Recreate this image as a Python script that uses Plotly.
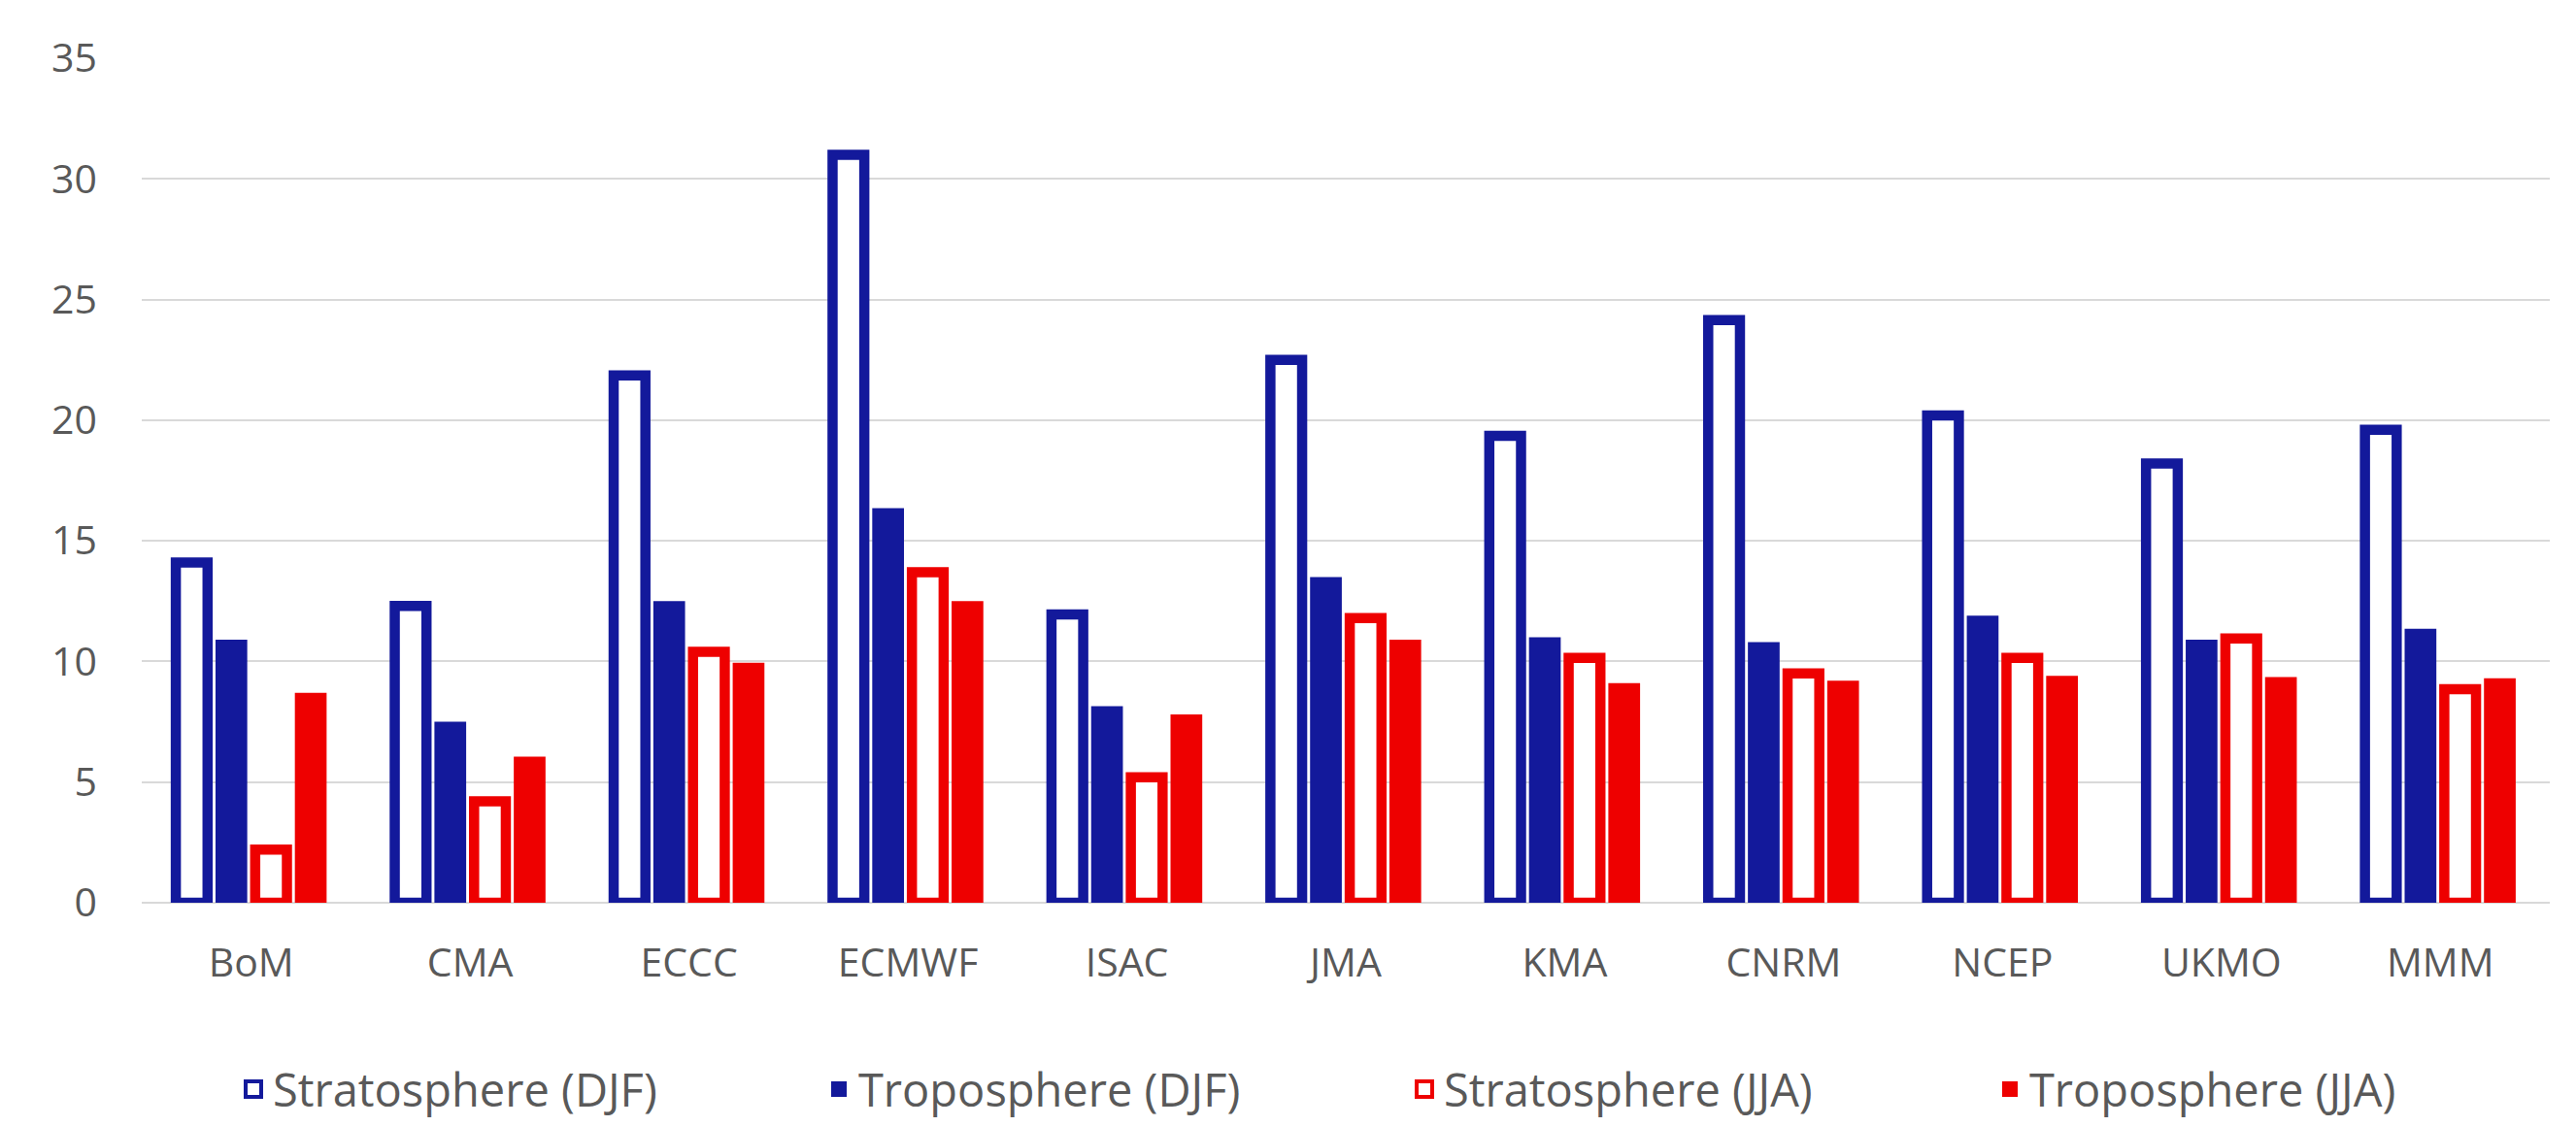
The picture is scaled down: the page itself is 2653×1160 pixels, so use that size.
import plotly.graph_objects as go

categories = ["BoM", "CMA", "ECCC", "ECMWF", "ISAC", "JMA", "KMA", "CNRM", "NCEP", "UKMO", "MMM"]
strat_djf = [14.1, 12.3, 21.85, 31.0, 11.95, 22.5, 19.35, 24.15, 20.2, 18.2, 19.6]
trop_djf = [10.9, 7.5, 12.5, 16.35, 8.15, 13.5, 11.0, 10.8, 11.9, 10.9, 11.35]
strat_jja = [2.2, 4.2, 10.4, 13.7, 5.2, 11.8, 10.15, 9.5, 10.15, 10.95, 8.85]
trop_jja = [8.7, 6.05, 9.95, 12.5, 7.8, 10.9, 9.1, 9.2, 9.4, 9.35, 9.3]
y_ticks = [0, 5, 10, 15, 20, 25, 30, 35]
series_names = ["Stratosphere (DJF)", "Troposphere (DJF)", "Stratosphere (JJA)", "Troposphere (JJA)"]

BLUE = "#13199B"
RED = "#EE0000"
FONT = "Open Sans"
GREY = "#595959"

series = [strat_djf, trop_djf, strat_jja, trop_jja]
fills = ["white", BLUE, "white", RED]
lines = [BLUE, BLUE, RED, RED]
lws = [10.5, 0, 10.5, 0]

fig = go.Figure()
for name, vals, fc, lc, lw in zip(series_names, series, fills, lines, lws):
    fig.add_trace(go.Bar(x=categories, y=vals, name=name, showlegend=False,
                         legendgroup=name,
                         marker=dict(color=fc, line=dict(color=lc, width=lw))))
# legend entries (larger square symbols)
for name, fc, lc, lw in zip(series_names, fills, lines, lws):
    fig.add_trace(go.Scatter(x=[None], y=[None], mode="markers", name=name, legendgroup=name,
                             marker=dict(symbol="square", size=16, color=fc if lw else lc,
                                         line=dict(color=lc, width=4 if lw else 0))))

fig.update_layout(
    width=2653, height=1160,
    margin=dict(l=138, r=8, t=52, b=230),
    paper_bgcolor="white", plot_bgcolor="white",
    barmode="group", bargap=0.275, bargroupgap=0.2,
    font=dict(family=FONT, color=GREY, size=41),
    showlegend=True,
    legend=dict(orientation="h", x=0.0383, xanchor="left", y=-0.2212, yanchor="middle",
                entrywidth=558, entrywidthmode="pixels",
                font=dict(family=FONT, size=47, color=GREY),
                traceorder="normal"),
)
fig.update_xaxes(showgrid=False, showline=False, zeroline=False, ticks="",
                 ticklabelstandoff=34, tickfont=dict(size=41, color=GREY, family=FONT))
fig.update_yaxes(range=[0, 35], tickvals=y_ticks, showgrid=True, gridcolor="#D9D9D9", gridwidth=2,
                 zeroline=True, zerolinecolor="#D9D9D9", zerolinewidth=2, showline=False, ticks="",
                 ticklabelstandoff=45, tickfont=dict(size=41, color=GREY, family=FONT))

fig.write_html("out.html")
